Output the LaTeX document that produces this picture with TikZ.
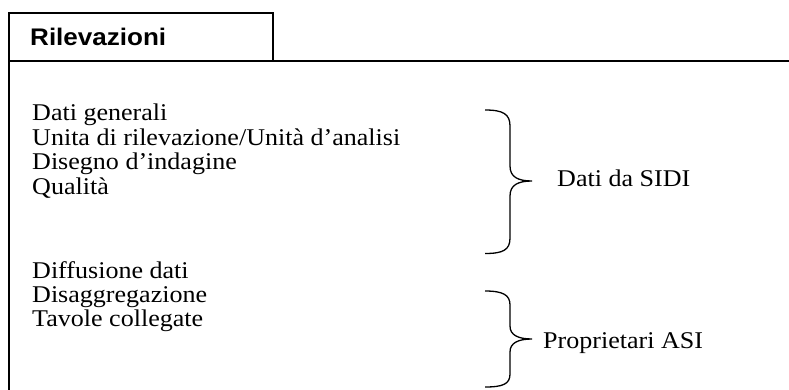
\documentclass[tikz,border=0pt]{standalone}
\usepackage{fontspec}
\usepackage{graphicx}
\setmainfont{Liberation Serif}
\newfontfamily\headfont{Liberation Sans}
% slightly widened lettering
\newcommand{\widetext}[1]{\scalebox{1.085}[1]{#1}}
\tikzset{
  frameline/.style={line width=1.8pt, line cap=rect},
  braceline/.style={line width=1.3pt},
  item/.style={anchor=base west, inner sep=0pt, font=\fontsize{24}{24}\selectfont},
  headtext/.style={anchor=base west, inner sep=0pt, font=\headfont\bfseries\fontsize{24}{24}\selectfont},
}
\begin{document}
\begin{tikzpicture}[x=1pt, y=-1pt]
\useasboundingbox (0,0) rectangle (789,390);
% frame with heading tab
\coordinate (tabTL) at (9,13);
\coordinate (tabTR) at (273,13);
\coordinate (tabBR) at (273,61);
\coordinate (tabBL) at (9,61);
\coordinate (lineR) at (789,61);
\coordinate (leftB) at (9,391);
\draw[frameline] (tabBL) -- (tabTL) -- (tabTR) -- (tabBR);
\draw[frameline] (tabTL) -- (leftB);
\draw[frameline] (tabBL) -- (lineR);
\node[headtext] (title) at (30,45.7) {\widetext{Rilevazioni}};

% first group
\node[item] (l1) at (32,121) {\widetext{Dati generali}};
\node[item] (l2) at (32,145.5) {\widetext{Unita di rilevazione/Unità d’analisi}};
\node[item] (l3) at (32,169.8) {\widetext{Disegno d’indagine}};
\node[item] (l4) at (32,194) {\widetext{Qualità}};
% second group
\node[item] (l5) at (32,278.3) {\widetext{Diffusione dati}};
\node[item] (l6) at (32,302.3) {\widetext{Disaggregazione}};
\node[item] (l7) at (32,326) {\widetext{Tavole collegate}};

% braces
\draw[braceline] (485,110) .. controls (503,110) and (510,114) .. (510,126)
  -- (510,166) .. controls (510,177) and (518,181) .. (532,181)
  .. controls (518,181) and (510,185) .. (510,196)
  -- (510,238) .. controls (510,250) and (503,253.5) .. (485,253.5);
\node[item] (g1) at (557,186) {\widetext{Dati da SIDI}};

\draw[braceline] (485,291) .. controls (503,291) and (510,295) .. (510,305)
  -- (510,326) .. controls (510,335) and (518,339) .. (532,339)
  .. controls (518,339) and (510,343) .. (510,352)
  -- (510,374) .. controls (510,384) and (503,387) .. (485,387);
\node[item] (g2) at (543,348) {\widetext{Proprietari ASI}};
\end{tikzpicture}
\end{document}
